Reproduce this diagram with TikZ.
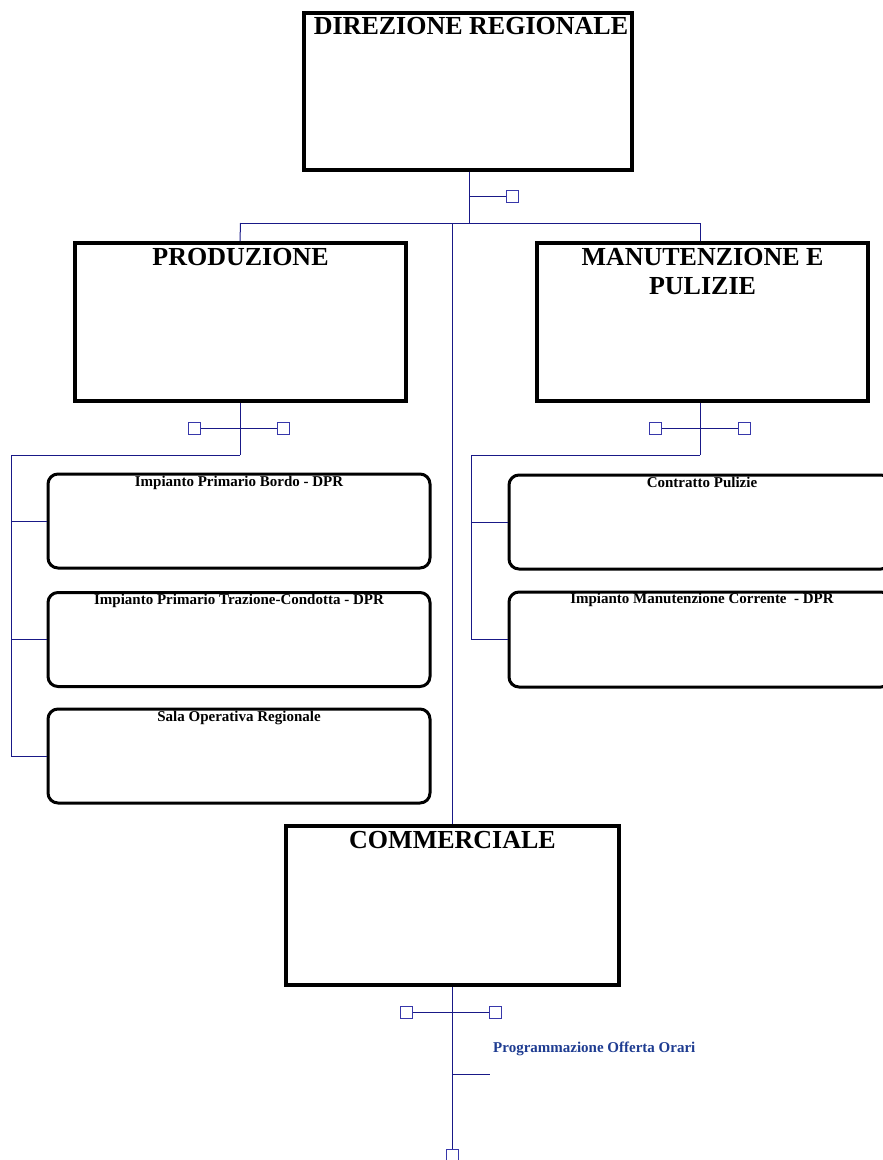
\documentclass[tikz,border=0pt]{standalone}
\usepackage{fontspec}
\setmainfont{Liberation Serif}
\definecolor{navy}{RGB}{25,25,135}
\definecolor{sqblue}{RGB}{55,55,170}
\definecolor{txtblue}{RGB}{30,60,145}
\begin{document}
\begin{tikzpicture}[x=1pt,y=-1pt,
  bigbox/.style={draw=black, line width=4pt, fill=white, inner sep=0pt, minimum height=158pt},
  roundbox/.style={draw=black, line width=3pt, rounded corners=10pt, fill=white, inner sep=0pt, minimum width=382pt, minimum height=94pt},
  bigtitle/.style={font=\bfseries\fontsize{26}{29}\selectfont, anchor=base, inner sep=0pt, align=center},
  smalltitle/.style={font=\bfseries\fontsize{15}{17}\selectfont, anchor=base, inner sep=0pt},
  link/.style={draw=navy, line width=1pt},
  sq/.style={draw=sqblue, line width=1pt, fill=white, minimum size=12pt, inner sep=0pt}
]
\useasboundingbox (0,0) rectangle (883,1160);
\clip (0,0) rectangle (883,1160);

% main boxes
\node[bigbox, minimum width=328pt, minimum height=157pt] (dir) at (468,91.5) {};
\node[bigbox, minimum width=331pt] (prod) at (240.5,322) {};
\node[bigbox, minimum width=331pt] (man) at (702.5,322) {};
\node[bigbox, minimum width=333pt, minimum height=159pt] (comm) at (452.5,905.5) {};

\node[bigtitle] (tdir) at ([xshift=3pt,yshift=-23pt]dir.north) {DIREZIONE REGIONALE};
\node[bigtitle] (tprod) at ([yshift=-24pt]prod.north) {PRODUZIONE};
\node[bigtitle, anchor=north] (tman) at ([yshift=-7pt]man.north) {MANUTENZIONE E\\PULIZIE};
\node[bigtitle] (tcomm) at ([yshift=-24pt]comm.north) {COMMERCIALE};

% sub boxes
\node[roundbox] (b1) at (239,521) {};
\node[roundbox] (b2) at (239,639.5) {};
\node[roundbox] (b3) at (239,756) {};
\node[roundbox] (c1) at (700,522) {};
\node[roundbox, minimum height=95pt] (c2) at (700,639.5) {};

\node[smalltitle] (tb1) at ([yshift=-13.5pt]b1.north) {Impianto Primario Bordo - DPR};
\node[smalltitle] (tb2) at ([yshift=-13pt]b2.north) {Impianto Primario Trazione-Condotta - DPR};
\node[smalltitle] (tb3) at ([yshift=-14pt]b3.north) {Sala Operativa Regionale};
\node[smalltitle] (tc1) at ([xshift=2pt,yshift=-14pt]c1.north) {Contratto Pulizie};
\node[smalltitle] (tc2) at ([xshift=2pt,yshift=-13pt]c2.north) {Impianto Manutenzione Corrente\ \ - DPR};

% junction coordinates
\coordinate (bus) at (0,223);
\coordinate (pj) at (240,455);
\coordinate (pl) at (11,455);
\coordinate (mj) at (700,455);
\coordinate (ml) at (471,455);
\coordinate (cj) at (452,223);

% top level connectors
\draw[link] ([xshift=1pt]dir.south) -- ([xshift=1pt]dir.south |- bus);
\draw[link] (prod.north |- bus) -- (mj |- bus);
\draw[link] (prod.north |- bus) -- ([xshift=-0.5pt]prod.north);
\draw[link] (mj |- bus) -- ([xshift=-2.5pt]man.north);
\draw[link] (cj) -- (comm.north -| cj);

% direzione side square
\node[sq] (sd) at (512.5,196.5) {};
\draw[link] (469,196.5) -- (sd.west);

% produzione group
\node[sq] (sp1) at (194.5,428) {};
\node[sq] (sp2) at (283.5,428) {};
\draw[link] (sp1.east) -- (sp2.west);
\draw[link] (prod.south -| pj) -- (pj);
\draw[link] (pj) -- (pl);
\draw[link] (pl) -- (pl |- b3.west);
\draw[link] (pl |- b1.west) -- (b1.west);
\draw[link] (pl |- b2.west) -- (b2.west);
\draw[link] (pl |- b3.west) -- (b3.west);

% manutenzione group
\node[sq] (sm1) at (655.5,428) {};
\node[sq] (sm2) at (744,428) {};
\draw[link] (sm1.east) -- (sm2.west);
\draw[link] (man.south -| mj) -- (mj);
\draw[link] (mj) -- (ml);
\draw[link] (ml) -- (ml |- c2.west);
\draw[link] (ml |- c1.west) -- (c1.west);
\draw[link] (ml |- c2.west) -- (c2.west);

% commerciale group
\node[sq] (sc1) at (406.5,1012) {};
\node[sq] (sc2) at (495.5,1012) {};
\node[sq] (sc3) at (452,1155) {};
\draw[link] (sc1.east) -- (sc2.west);
\draw[link] (comm.south -| cj) -- (sc3.north);
\coordinate (stub) at (490,1074);
\draw[link] (stub -| cj) -- (stub);
\node[font=\bfseries\fontsize{15}{17}\selectfont, text=txtblue, anchor=base west, inner sep=0pt] (prog) at (493,1052) {Programmazione Offerta Orari};
\end{tikzpicture}
\end{document}
